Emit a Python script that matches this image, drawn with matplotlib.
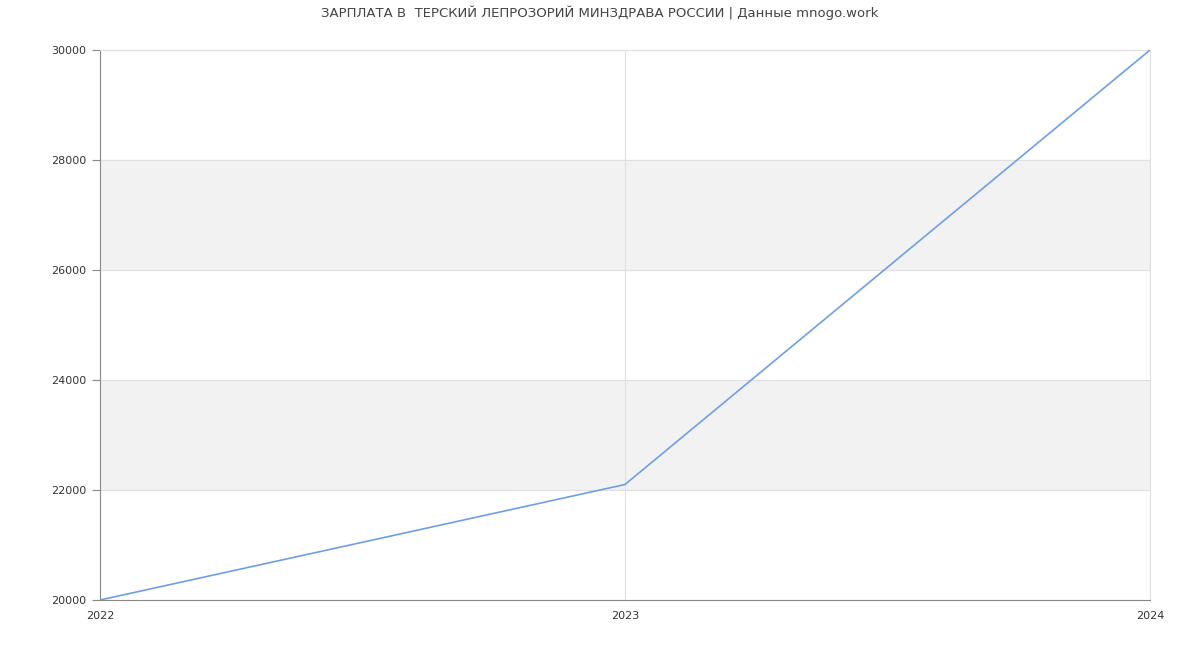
import matplotlib
matplotlib.use("Agg")
import matplotlib.pyplot as plt

# salary by year
years = [2022, 2023, 2024]
salary = [20000, 22100, 30000]
y_ticks = [20000, 22000, 24000, 26000, 28000, 30000]

fig = plt.figure(figsize=(12, 6.5), dpi=100)
ax = fig.add_axes([100 / 1200, 50 / 650, 1050 / 1200, 550 / 650])

# alternating gray bands
for i in range(len(y_ticks) - 1):
    if i % 2 == 1:
        ax.axhspan(y_ticks[i], y_ticks[i + 1], color='#f2f2f2', zorder=0)

ax.plot(years, salary, color='#6d9eeb', linewidth=1.2, zorder=3)

ax.set_xlim(2022, 2024)
ax.set_ylim(20000, 30000)
ax.set_xticks(years)
ax.set_yticks(y_ticks)
ax.grid(True, color='#e0e0e0', linewidth=0.8, zorder=1)
ax.set_axisbelow(True)

ax.spines['top'].set_color('#e0e0e0')
ax.spines['right'].set_color('#e0e0e0')
ax.spines['top'].set_linewidth(0.8)
ax.spines['right'].set_linewidth(0.8)
ax.spines['left'].set_color('#888888')
ax.spines['bottom'].set_color('#888888')
ax.tick_params(axis='y', length=6, color='#888888', labelsize=8, labelcolor='#333333', pad=4)
ax.tick_params(axis='x', length=0, labelsize=8, labelcolor='#333333', pad=8)

fig.text(0.5, 1 - 13 / 650, "ЗАРПЛАТА В  ТЕРСКИЙ ЛЕПРОЗОРИЙ МИНЗДРАВА РОССИИ | Данные mnogo.work",
         ha='center', va='center', fontsize=9.5, color='#444444')

fig.savefig("out.png", dpi=100)
